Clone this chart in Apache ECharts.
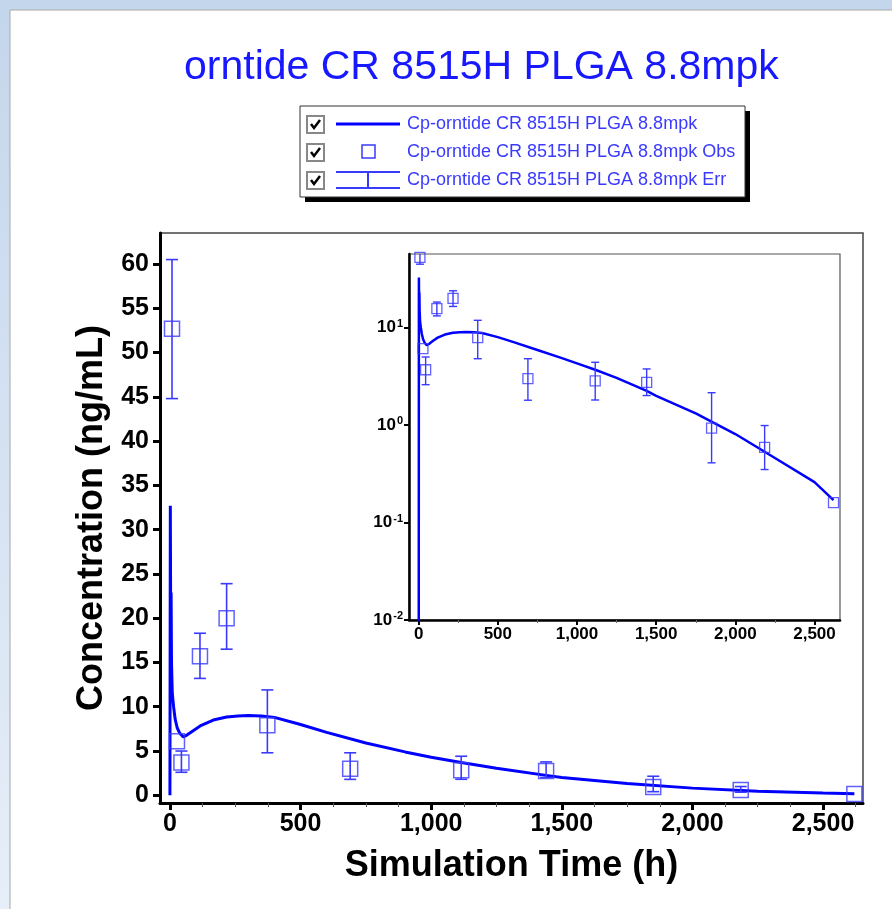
<!DOCTYPE html>
<html>
<head>
<meta charset="utf-8">
<title>orntide CR 8515H PLGA 8.8mpk</title>
<script src="https://cdn.jsdelivr.net/npm/echarts@6/dist/echarts.min.js"></script>
<style>
  html, body { margin: 0; padding: 0; background: #fff; }
  #container { width: 892px; height: 909px; }
</style>
</head>
<body>
<div id="container"></div>
<script>
  // simulated curve (h, ng/mL)
  const simTime = [0, 1.5, 3, 4.5, 6, 9, 14, 20, 28, 38, 51, 65, 89, 120, 166, 217, 260, 300, 350, 400,
    500, 600, 750, 900, 1000, 1115, 1250, 1440, 1500, 1750, 2000, 2250, 2500, 2620]
  const simConc = [0, 32.7, 18.8, 22.9, 15.0, 11.5, 10.0, 8.6, 7.6, 7.0, 6.6, 6.8, 7.3, 7.9, 8.5, 8.85, 8.95, 9.0, 8.95, 8.8,
    8.0, 7.1, 5.9, 4.9, 4.3, 3.7, 3.05, 2.25, 2.0, 1.32, 0.81, 0.46, 0.26, 0.17]

  // observed points and error bars
  const obsTime = [8, 27, 44, 115, 217, 373, 690, 1115, 1440, 1850, 2185, 2620]
  const obsConc = [52.7, 6.1, 3.7, 15.7, 20.0, 7.9, 3.0, 2.84, 2.75, 0.93, 0.59, 0.16]
  const errLow = [44.8, 6.1, 2.6, 13.2, 16.5, 4.8, 1.8, 1.81, 2.01, 0.41, 0.35, 0.16]
  const errHigh = [60.5, 6.1, 5.0, 18.3, 23.9, 11.9, 4.8, 4.41, 3.77, 2.15, 0.99, 0.16]

  // ticks
  const xTicks = [0, 500, 1000, 1500, 2000, 2500]
  const xMinorMain = [125, 250, 375, 625, 750, 875, 1125, 1250, 1375, 1625, 1750, 1875, 2125, 2250, 2375, 2625]
  const xMinorInset = [250, 750, 1250, 1750, 2250]
  const yTicksMain = [0, 5, 10, 15, 20, 25, 30, 35, 40, 45, 50, 55, 60]
  const yTicksInset = [0.01, 0.1, 1, 10]

  const seriesName = 'Cp-orntide CR 8515H PLGA 8.8mpk'
  const titleText = 'orntide CR 8515H PLGA 8.8mpk'

  const lineColor = '#0000ff'
  const obsColor = '#3a3aff'
  const font = "'Liberation Sans'"

  const obsData = obsTime.map((t, i) => [t, obsConc[i]])
  const errData = obsTime.map((t, i) => [t, errLow[i], errHigh[i]]).filter(d => d[2] > d[1])

  function errorBar(capHalf, width) {
    return function (params, api) {
      const x = api.value(0)
      const top = api.coord([x, api.value(2)])
      const bot = api.coord([x, api.value(1)])
      const style = { stroke: obsColor, lineWidth: width, fill: null }
      return {
        type: 'group',
        children: [
          { type: 'line', shape: { x1: top[0], y1: top[1], x2: bot[0], y2: bot[1] }, style },
          { type: 'line', shape: { x1: top[0] - capHalf, y1: top[1], x2: top[0] + capHalf, y2: top[1] }, style },
          { type: 'line', shape: { x1: bot[0] - capHalf, y1: bot[1], x2: bot[0] + capHalf, y2: bot[1] }, style }
        ]
      }
    }
  }

  const thousands = v => Number(v).toLocaleString('en-US')

  // legend drawn as graphic (checkbox look)
  const legendRows = [124, 152, 180]
  const legendTexts = [seriesName, seriesName + ' Obs', seriesName + ' Err']
  const legendGraphic = [
    { type: 'rect', shape: { x: 305, y: 111, width: 445, height: 91 }, style: { fill: '#000' }, z: 10 },
    { type: 'rect', shape: { x: 300, y: 106, width: 445, height: 91 }, style: { fill: '#fff', stroke: '#333', lineWidth: 1 }, z: 11 }
  ]
  legendRows.forEach((y, i) => {
    legendGraphic.push(
      { type: 'rect', shape: { x: 307, y: y - 8, width: 17, height: 17 }, style: { fill: '#fff', stroke: '#888', lineWidth: 2 }, z: 12 },
      { type: 'polyline', shape: { points: [[311, y], [314, y + 4], [320, y - 4]] }, style: { stroke: '#000', lineWidth: 2.5, fill: null }, z: 13 },
      { type: 'text', x: 407, y: y, style: { text: legendTexts[i], fill: obsColor, font: '18px ' + font, textVerticalAlign: 'middle' }, z: 12 }
    )
  })
  legendGraphic.push(
    { type: 'line', shape: { x1: 336, y1: 124, x2: 400, y2: 124 }, style: { stroke: lineColor, lineWidth: 3 }, z: 12 },
    { type: 'rect', shape: { x: 362, y: 145, width: 13, height: 13 }, style: { fill: null, stroke: obsColor, lineWidth: 1.5 }, z: 12 },
    { type: 'line', shape: { x1: 336, y1: 172, x2: 400, y2: 172 }, style: { stroke: obsColor, lineWidth: 2 }, z: 12 },
    { type: 'line', shape: { x1: 336, y1: 188, x2: 400, y2: 188 }, style: { stroke: obsColor, lineWidth: 2 }, z: 12 },
    { type: 'line', shape: { x1: 368, y1: 172, x2: 368, y2: 188 }, style: { stroke: obsColor, lineWidth: 2 }, z: 12 }
  )

  // window frame around the plot
  const frameGraphic = [
    { type: 'rect', shape: { x: 0, y: 0, width: 892, height: 909 }, style: { fill: new echarts.graphic.LinearGradient(0, 0, 0, 1, [{ offset: 0, color: '#c4d6ec' }, { offset: 1, color: '#e6eef8' }]) }, z: -20 },
    { type: 'rect', shape: { x: 10, y: 10, width: 900, height: 920 }, style: { fill: '#fff', stroke: '#a8a8a8', lineWidth: 1 }, z: -19 }
  ]

  const myChart = echarts.init(document.getElementById('container'))
  const option = {
    animation: false,
    title: {
      text: titleText,
      left: 184,
      top: 47,
      padding: 0,
      textStyle: { color: '#1818ff', fontFamily: font, fontWeight: 'normal', fontSize: 41 }
    },
    graphic: frameGraphic.concat(legendGraphic),
    grid: [
      { left: 160, top: 233, width: 703, height: 570, show: true, backgroundColor: '#fff', borderColor: '#444', borderWidth: 1.5 },
      { left: 409, top: 254, width: 431, height: 366, show: true, backgroundColor: '#fff', borderColor: '#555', borderWidth: 1.2, z: 3 }
    ],
    xAxis: [
      {
        type: 'value', gridIndex: 0, min: -38, max: 2653, position: 'bottom',
        name: 'Simulation Time (h)', nameLocation: 'middle', nameGap: 45,
        nameTextStyle: { color: '#000', fontFamily: font, fontWeight: 'bold', fontSize: 36 },
        splitLine: { show: false },
        axisLine: { onZero: false, lineStyle: { color: '#000', width: 3 } },
        axisTick: { length: 7, lineStyle: { color: '#000', width: 3 }, customValues: xTicks },
        axisLabel: { customValues: xTicks, formatter: thousands, margin: 9, color: '#000', fontFamily: font, fontWeight: 'bold', fontSize: 25 }
      },
      {
        type: 'value', gridIndex: 0, min: -38, max: 2653, position: 'bottom', offset: 0,
        splitLine: { show: false },
        axisLine: { show: false, onZero: false },
        axisTick: { length: 4, lineStyle: { color: '#555', width: 1 }, customValues: xMinorMain },
        axisLabel: { show: false }
      },
      {
        type: 'value', gridIndex: 1, min: -61, max: 2661, position: 'bottom',
        splitLine: { show: false },
        axisLine: { onZero: false, lineStyle: { color: '#000', width: 2.5 } },
        axisTick: { length: 5, lineStyle: { color: '#000', width: 2 }, customValues: xTicks },
        axisLabel: { customValues: xTicks, formatter: thousands, margin: 6, color: '#000', fontFamily: font, fontWeight: 'bold', fontSize: 17 },
        z: 4
      },
      {
        type: 'value', gridIndex: 1, min: -61, max: 2661, position: 'bottom', offset: 0,
        splitLine: { show: false },
        axisLine: { show: false, onZero: false },
        axisTick: { length: 3, lineStyle: { color: '#666', width: 1 }, customValues: xMinorInset },
        axisLabel: { show: false },
        z: 4
      }
    ],
    yAxis: [
      {
        type: 'value', gridIndex: 0, min: -0.87, max: 63.5, position: 'left',
        name: 'Concentration (ng/mL)', nameLocation: 'middle', nameGap: 47,
        nameTextStyle: { color: '#000', fontFamily: font, fontWeight: 'bold', fontSize: 36 },
        splitLine: { show: false },
        axisLine: { onZero: false, lineStyle: { color: '#000', width: 3 } },
        axisTick: { length: 7, lineStyle: { color: '#000', width: 3 }, customValues: yTicksMain },
        axisLabel: { customValues: yTicksMain, margin: 11, color: '#000', fontFamily: font, fontWeight: 'bold', fontSize: 25 }
      },
      {
        type: 'log', gridIndex: 1, min: 0.01, max: 57, logBase: 10, position: 'left',
        splitLine: { show: false },
        axisLine: { onZero: false, lineStyle: { color: '#000', width: 2.5 } },
        axisTick: { length: 5, lineStyle: { color: '#000', width: 2 }, customValues: yTicksInset },
        axisLabel: {
          customValues: yTicksInset,
          margin: 6,
          formatter: v => '{b|10}{s|' + Math.round(Math.log10(v)) + '}',
          rich: {
            b: { fontFamily: font, fontWeight: 'bold', fontSize: 17, color: '#000' },
            s: { fontFamily: font, fontWeight: 'bold', fontSize: 11, color: '#000', verticalAlign: 'top', padding: [0, 0, 8, 1] }
          }
        },
        z: 4
      }
    ],
    series: [
      {
        name: seriesName, type: 'line', xAxisIndex: 0, yAxisIndex: 0,
        data: simTime.map((t, i) => [t, simConc[i]]),
        symbol: 'none', lineStyle: { color: lineColor, width: 3 }, z: 3
      },
      {
        name: seriesName + ' Obs', type: 'scatter', xAxisIndex: 0, yAxisIndex: 0,
        data: obsData, symbol: 'rect', symbolSize: 15,
        itemStyle: { color: 'rgba(255,255,255,0)', borderColor: obsColor, borderWidth: 1.5 }, z: 4
      },
      {
        name: seriesName + ' Err', type: 'custom', xAxisIndex: 0, yAxisIndex: 0,
        data: errData, encode: { x: 0, y: [1, 2] },
        renderItem: errorBar(6, 1.6), z: 4
      },
      // inset (log scale), same data
      {
        type: 'line', xAxisIndex: 2, yAxisIndex: 1,
        data: simTime.map((t, i) => [t, Math.max(simConc[i], 1e-4)]),
        symbol: 'none', lineStyle: { color: lineColor, width: 2.5 }, z: 5
      },
      {
        type: 'scatter', xAxisIndex: 2, yAxisIndex: 1,
        data: obsData, symbol: 'rect', symbolSize: 10,
        itemStyle: { color: 'rgba(255,255,255,0)', borderColor: obsColor, borderWidth: 1.3 }, z: 6
      },
      {
        type: 'custom', xAxisIndex: 2, yAxisIndex: 1, clip: true,
        data: errData, encode: { x: 0, y: [1, 2] },
        renderItem: errorBar(4, 1.4), z: 6
      }
    ]
  }
  option && myChart.setOption(option)
</script>
</body>
</html>
